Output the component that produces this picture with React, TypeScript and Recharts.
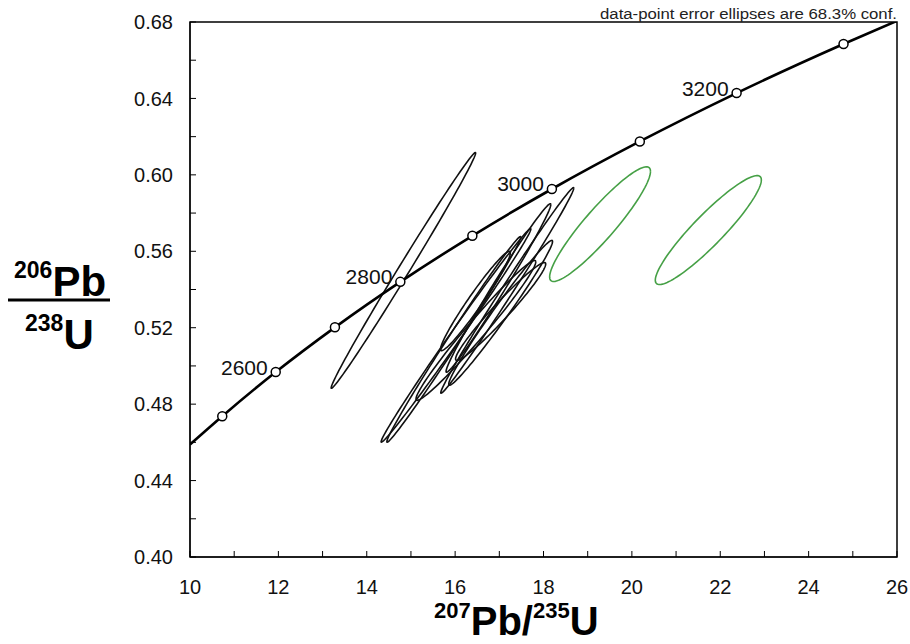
import { ComposedChart, XAxis, YAxis, Line, Scatter, ReferenceArea, LabelList } from "recharts";

const FONT = "'Liberation Sans', Arial, sans-serif";

// axis ticks (minor ones get no label)
const xTicks = [10, 11, 12, 13, 14, 15, 16, 17, 18, 19, 20, 21, 22, 23, 24, 25, 26];
const yTicks = [0.4, 0.42, 0.44, 0.46, 0.48, 0.5, 0.52, 0.54, 0.56, 0.58, 0.6, 0.62, 0.64, 0.66, 0.68];

// concordia curve
const curveX = [10.0, 10.73, 11.94, 13.28, 14.76, 16.39, 18.19, 20.18, 22.37, 24.79, 26.0];
const curveY = [0.4589, 0.4737, 0.4968, 0.5202, 0.544, 0.5681, 0.5926, 0.6175, 0.6428, 0.6685, 0.6806];

// age markers (Ma)
const markerX = [10.73, 11.94, 13.28, 14.76, 16.39, 18.19, 20.18, 22.37, 24.79];
const markerY = [0.4737, 0.4968, 0.5202, 0.544, 0.5681, 0.5926, 0.6175, 0.6428, 0.6685];
const markerLabels = ["", "2600", "", "2800", "", "3000", "", "3200", ""];

// black error ellipses: centre, half ranges, correlation
const blackCX = [14.83, 17.18, 16.98, 17.03, 16.02, 15.97, 16.47, 16.46, 17.03];
const blackCY = [0.55, 0.5395, 0.5408, 0.5278, 0.516, 0.5139, 0.5186, 0.534, 0.5285];
const blackSX = [1.635, 1.505, 1.185, 1.175, 1.695, 1.515, 1.355, 0.79, 1.02];
const blackSY = [0.0617, 0.0538, 0.0441, 0.0379, 0.0559, 0.0538, 0.0366, 0.026, 0.0256];
const blackRho = [0.996, 0.995, 0.99, 0.985, 0.996, 0.995, 0.98, 0.97, 0.97];

// green error ellipses
const greenCX = [19.28, 21.73];
const greenCY = [0.5742, 0.5711];
const greenSX = [1.141, 1.2];
const greenSY = [0.03, 0.0285];
const greenRho = [0.92, 0.92];

function outline(cx: number, cy: number, sx: number, sy: number, rho: number) {
  const pts = [];
  const n = 120;
  const s = Math.sqrt(1 - rho * rho);
  for (let i = 0; i <= n; i++) {
    const a = (2 * Math.PI * i) / n;
    pts.push({ x: cx + sx * Math.cos(a), y: cy + sy * (rho * Math.cos(a) + s * Math.sin(a)) });
  }
  return pts;
}

const curveData = curveX.map((x, i) => ({ x, y: curveY[i] }));
const markerData = markerX.map((x, i) => ({ x, y: markerY[i], label: markerLabels[i] }));
const blackEllipses = blackCX.map((cx, i) => outline(cx, blackCY[i], blackSX[i], blackSY[i], blackRho[i]));
const greenEllipses = greenCX.map((cx, i) => outline(cx, greenCY[i], greenSX[i], greenSY[i], greenRho[i]));

const AgeLabel = (props: any) => {
  const { viewBox, value } = props;
  if (!value || !viewBox) return null;
  const cx = viewBox.x + viewBox.width / 2;
  const cy = viewBox.y + viewBox.height / 2;
  return (
    <text x={cx - 8} y={cy - 5} textAnchor="end" dominantBaseline="central" fontSize={21} fontFamily={FONT} fill="#111">
      {value}
    </text>
  );
};

const Marker = (props: any) => <circle cx={props.cx} cy={props.cy} r={4.5} fill="#fff" stroke="#000" strokeWidth={1.5} />;

export default function App() {
  return (
    <div style={{ position: "absolute", left: 0, top: 0, width: 910, height: 644, background: "#fff" }}>
      <ComposedChart width={910} height={644} margin={{ top: 22, right: 13, bottom: 47, left: 130 }}>
        <XAxis
          type="number"
          dataKey="x"
          domain={[10, 26]}
          allowDataOverflow
          ticks={xTicks}
          interval={0}
          tickFormatter={(v: number) => (v % 2 === 0 ? String(v) : "")}
          tickSize={-6}
          tickMargin={29}
          height={40}
          stroke="#000"
          tick={{ fill: "#111", fontSize: 20, fontFamily: FONT }}
        />
        <YAxis
          type="number"
          dataKey="y"
          domain={[0.4, 0.68]}
          allowDataOverflow
          ticks={yTicks}
          interval={0}
          tickFormatter={(v: number) => (Math.round(v * 100) % 4 === 0 ? v.toFixed(2) : "")}
          tickSize={-6}
          tickMargin={23}
          width={60}
          stroke="#000"
          tick={{ fill: "#111", fontSize: 20, fontFamily: FONT }}
        />
        <ReferenceArea x1={10} x2={26} y1={0.4} y2={0.68} fill="none" stroke="#000" strokeWidth={1.5} />
        {blackEllipses.map((pts, i) => (
          <Line key={"b" + i} data={pts} dataKey="y" type="linear" stroke="#111" strokeWidth={1.6} dot={false} isAnimationActive={false} />
        ))}
        {greenEllipses.map((pts, i) => (
          <Line key={"g" + i} data={pts} dataKey="y" type="linear" stroke="#46a046" strokeWidth={1.6} dot={false} isAnimationActive={false} />
        ))}
        <Line data={curveData} dataKey="y" type="monotone" stroke="#000" strokeWidth={2.6} dot={false} isAnimationActive={false} />
        <Scatter data={markerData} dataKey="y" shape={Marker} isAnimationActive={false}>
          <LabelList dataKey="label" content={AgeLabel} />
        </Scatter>
      </ComposedChart>
      <svg width={910} height={644} style={{ position: "absolute", left: 0, top: 0, pointerEvents: "none" }} fontFamily={FONT}>
        <text x={897} y={19} textAnchor="end" fontSize={14} fill="#222" textLength={297} lengthAdjust="spacingAndGlyphs">
          data-point error ellipses are 68.3% conf.
        </text>
        <text x={14} y={296} fontWeight="bold" fill="#000">
          <tspan fontSize={23} dy={-18}>206</tspan>
          <tspan fontSize={42} dy={18}>Pb</tspan>
        </text>
        <line x1={8} x2={110} y1={300} y2={300} stroke="#000" strokeWidth={3} />
        <text x={25} y={349} fontWeight="bold" fill="#000">
          <tspan fontSize={23} dy={-18}>238</tspan>
          <tspan fontSize={42} dy={18}>U</tspan>
        </text>
        <text x={434} y={635} fontWeight="bold" fill="#000">
          <tspan fontSize={22} dy={-17}>207</tspan>
          <tspan fontSize={40} dy={17}>Pb/</tspan>
          <tspan fontSize={22} dy={-17}>235</tspan>
          <tspan fontSize={40} dy={17}>U</tspan>
        </text>
      </svg>
    </div>
  );
}
